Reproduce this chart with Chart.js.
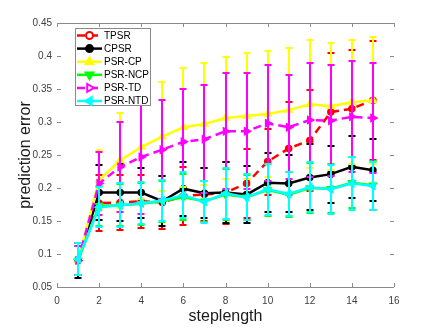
<!DOCTYPE html>
<html><head><meta charset="utf-8">
<script src="https://cdn.jsdelivr.net/npm/chart.js@4.4.1/dist/chart.umd.min.js"></script>
<style>html,body{margin:0;padding:0;background:#fff}#wrap{width:436px;height:331px;position:relative}</style>
</head><body><div id="wrap"><canvas id="c"></canvas></div>
<script>
// ---- data ----
const steps = [1,2,3,4,5,6,7,8,9,10,11,12,13,14,15];
const seriesNames = ['TPSR','CPSR','PSR-CP','PSR-NCP','PSR-TD','PSR-NTD'];
const tpsr     = [0.090,0.177,0.178,0.180,0.178,0.188,0.190,0.193,0.207,0.240,0.260,0.272,0.315,0.320,0.333];
const tpsrErr  = [0.022,0.042,0.042,0.040,0.040,0.044,0.040,0.047,0.052,0.050,0.070,0.077,0.090,0.089,0.090];
const cpsr     = [0.090,0.193,0.193,0.193,0.180,0.199,0.192,0.193,0.190,0.208,0.207,0.216,0.221,0.232,0.227];
const cpsrErr  = [0.026,0.042,0.043,0.038,0.038,0.041,0.038,0.046,0.043,0.045,0.043,0.050,0.043,0.047,0.047];
const psrCP    = [0.090,0.212,0.242,0.262,0.278,0.292,0.297,0.306,0.309,0.312,0.318,0.327,0.324,0.330,0.333];
const psrCPErr = [0.022,0.045,0.072,0.078,0.083,0.090,0.092,0.092,0.096,0.096,0.094,0.097,0.096,0.094,0.096];
const psrNCP   = [0.090,0.173,0.174,0.176,0.180,0.186,0.180,0.190,0.186,0.197,0.190,0.200,0.199,0.208,0.204];
const psrNCPErr= [0.022,0.030,0.032,0.032,0.031,0.035,0.031,0.039,0.034,0.039,0.034,0.038,0.037,0.039,0.037];
const psrTD    = [0.090,0.207,0.232,0.247,0.258,0.270,0.274,0.286,0.286,0.298,0.292,0.303,0.302,0.308,0.306];
const psrTDErr = [0.022,0.048,0.068,0.086,0.075,0.080,0.082,0.088,0.088,0.088,0.079,0.086,0.084,0.084,0.083];
const psrNTD   = [0.092,0.171,0.174,0.177,0.181,0.189,0.179,0.192,0.186,0.198,0.191,0.201,0.198,0.207,0.203];
const psrNTDErr= [0.024,0.030,0.033,0.032,0.031,0.035,0.032,0.039,0.035,0.039,0.034,0.038,0.037,0.040,0.037];
const xTicks = [0,2,4,6,8,10,12,14,16];
const xTickLabels = ['0','2','4','6','8','10','12','14','16'];
const yTicks = [0.05,0.1,0.15,0.2,0.25,0.3,0.35,0.4,0.45];
const yTickLabels = ['0.05','0.1','0.15','0.2','0.25','0.3','0.35','0.4','0.45'];

const FONT = '"Liberation Sans", Arial, sans-serif';

function mk(i, vals, errs, color, style, rot, dashed, legendFill, order){
  return {
    label: seriesNames[i],
    data: steps.map((s,k)=>({x:s, y:vals[k]})),
    errors: errs, legendFill: legendFill,
    borderColor: color, backgroundColor: color,
    borderWidth: 2.5, borderDash: dashed ? [8,5] : [],
    pointStyle: style, pointRotation: rot, pointRadius: style==='circle'?3:4,
    pointBorderWidth: 1.5, pointBackgroundColor: color, pointBorderColor: color,
    tension: 0, fill: false, order: order
  };
}
const datasets = [
  mk(0, tpsr, tpsrErr, '#ff0000', 'circle', 0, true, '#ffffff', 5),
  mk(1, cpsr, cpsrErr, '#000000', 'circle', 0, false, '#000000', 4),
  mk(2, psrCP, psrCPErr, '#ffff00', 'triangle', 0, false, '#ffff00', 3),
  mk(3, psrNCP, psrNCPErr, '#00ff00', 'triangle', 180, false, '#00ff00', 2),
  mk(4, psrTD, psrTDErr, '#ff00ff', 'triangle', 90, true, '#ffffff', 1),
  mk(5, psrNTD, psrNTDErr, '#00ffff', 'triangle', -90, false, '#00ffff', 0)
];

const errorBars = {
  id:'errorBars',
  beforeDatasetDraw(chart, args){
    const ds = chart.data.datasets[args.index];
    if(!ds.errors) return;
    const xs = chart.scales.x, ys = chart.scales.y, ctx = chart.ctx;
    ctx.save();
    ctx.strokeStyle = ds.borderColor; ctx.lineWidth = 2; ctx.setLineDash([]);
    ds.data.forEach((p,i)=>{
      const px = Math.round(xs.getPixelForValue(p.x));
      const t = Math.round(ys.getPixelForValue(p.y + ds.errors[i]));
      const b = Math.round(ys.getPixelForValue(p.y - ds.errors[i]));
      ctx.beginPath();
      ctx.moveTo(px,t); ctx.lineTo(px,b);
      ctx.moveTo(px-3.5,t); ctx.lineTo(px+3.5,t);
      ctx.moveTo(px-3.5,b); ctx.lineTo(px+3.5,b);
      ctx.stroke();
    });
    ctx.restore();
  }
};

const axesBox = {
  id:'axesBox',
  beforeDatasetsDraw(chart){
    const {ctx, chartArea:a, scales:{x,y}} = chart;
    ctx.save();
    ctx.strokeStyle = '#8a8a8a'; ctx.lineWidth = 1;
    ctx.beginPath();
    ctx.moveTo(a.left, a.top+0.5); ctx.lineTo(a.right, a.top+0.5);
    ctx.moveTo(a.left, a.bottom+0.5); ctx.lineTo(a.right, a.bottom+0.5);
    xTicks.forEach(v=>{ const px=Math.round(x.getPixelForValue(v))+0.5;
      ctx.moveTo(px,a.bottom); ctx.lineTo(px,a.bottom-4);
      ctx.moveTo(px,a.top); ctx.lineTo(px,a.top+4); });
    yTicks.forEach(v=>{ const py=Math.round(y.getPixelForValue(v))+0.5;
      ctx.moveTo(a.left,py); ctx.lineTo(a.left+4,py);
      ctx.moveTo(a.right,py); ctx.lineTo(a.right-4,py); });
    ctx.stroke();
    ctx.restore();
  }
};

function marker(ctx, ds, cx, cy){
  if (Chart.helpers && Chart.helpers.drawPoint){
    ctx.fillStyle = ds.legendFill; ctx.strokeStyle = ds.borderColor;
    ctx.lineWidth = 2; ctx.setLineDash([]);
    Chart.helpers.drawPoint(ctx, {pointStyle: ds.pointStyle, rotation: ds.pointRotation, radius: ds.pointStyle==='circle'?3.5:4.5, borderWidth: 2}, cx, cy);
  }
}

const boxLegend = {
  id:'boxLegend',
  afterDraw(chart){
    const ctx = chart.ctx;
    ctx.save();
    const L=75, T=28, R=150, B=105;
    ctx.fillStyle='#ffffff'; ctx.fillRect(L,T,R-L,B-T);
    ctx.strokeStyle='#8a8a8a'; ctx.lineWidth=1; ctx.strokeRect(L+0.5,T+0.5,R-L,B-T);
    ctx.font = '10px ' + FONT; ctx.textBaseline='middle'; ctx.textAlign='left';
    chart.data.datasets.forEach((ds,i)=>{
      const cy = 35.5 + i*13.1;
      ctx.strokeStyle = ds.borderColor; ctx.lineWidth = 2.5;
      ctx.setLineDash(ds.borderDash);
      ctx.beginPath(); ctx.moveTo(77,cy); ctx.lineTo(102,cy); ctx.stroke();
      marker(ctx, ds, 89.5, cy);
      ctx.fillStyle = '#000000';
      ctx.fillText(ds.label, 104, cy+0.5);
    });
    ctx.restore();
  }
};

new Chart(document.getElementById('c'), {
  type:'line',
  data:{datasets},
  plugins:[errorBars, axesBox, boxLegend],
  options:{
    responsive:true, maintainAspectRatio:false, animation:false, events:[],
    layout:{padding:{left:0,right:42,top:23,bottom:0}},
    plugins:{legend:{display:false}, tooltip:{enabled:false}},
    scales:{
      x:{type:'linear', min:0, max:16,
        afterBuildTicks(s){ s.ticks = xTicks.map(v=>({value:v})); },
        afterFit(s){ s.height = 44; },
        grid:{display:false, drawTicks:false}, border:{display:false},
        ticks:{padding:8, color:'#404040', font:{family:FONT,size:10}, maxRotation:0,
          callback:(v,i)=>xTickLabels[i]},
        title:{display:true, text:'steplength', color:'#1a1a1a', font:{family:FONT,size:16}, padding:{top:0,bottom:5}}
      },
      y:{type:'linear', min:0.05, max:0.45,
        afterBuildTicks(s){ s.ticks = yTicks.map(v=>({value:v})); },
        afterFit(s){ s.width = 57; },
        grid:{display:false, drawTicks:false}, border:{display:false},
        ticks:{padding:5, color:'#404040', font:{family:FONT,size:10},
          callback:(v,i)=>yTickLabels[i]},
        title:{display:true, text:'prediction error', color:'#1a1a1a', font:{family:FONT,size:16}, padding:{top:16,bottom:0}}
      }
    }
  }
});
</script></body></html>
